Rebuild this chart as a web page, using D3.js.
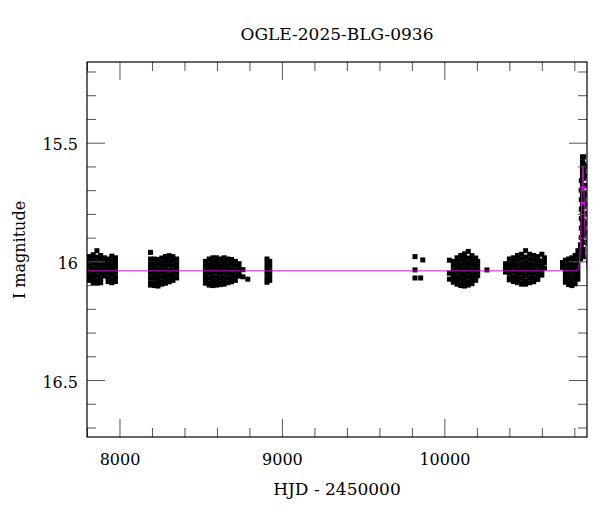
<!DOCTYPE html>
<html><head><meta charset="utf-8">
<script src="https://cdn.jsdelivr.net/npm/d3@7"></script>
<style>body{margin:0;background:#fff}svg{display:block}text{font-family:"DejaVu Serif",serif;fill:#000}</style>
</head><body><svg id="c" width="600" height="512"></svg>
<script>
const title = "OGLE-2025-BLG-0936";
const xLabel = "HJD - 2450000";
const yLabel = "I magnitude";
const xDomain = [7800, 10878];
const yDomain = [15.16, 16.74];
const xMajorTicks = [8000, 9000, 10000];
const xTickLabels = ["8000", "9000", "10000"];
const yMajorTicks = [15.5, 16, 16.5];
const yTickLabels = ["15.5", "16", "16.5"];

// photometry, grouped by observing time: [HJD-2450000, [I magnitudes]]
const season2017 = [
 [7815,[15.98,16.00,16.02,16.04,16.06,16.08]],
 [7838,[15.972,15.992,16.012,16.032,16.052,16.072,16.09]],
 [7861,[15.955,15.982,16.002,16.022,16.042,16.062,16.082,16.092]],
 [7884,[15.975,15.995,16.015,16.035,16.055,16.075,16.09]],
 [7907,[15.985,16.005,16.025,16.045,16.062]],
 [7930,[15.99,16.01,16.03,16.05,16.07,16.085]],
 [7953,[15.978,15.998,16.018,16.038,16.058,16.078,16.09]],
 [7975,[15.985,16.005,16.025,16.045,16.065,16.085]]
];
const season2018 = [
 [8191,[15.962,15.99,16.01,16.03,16.05,16.07,16.09,16.1]],
 [8214,[15.99,16.01,16.03,16.05,16.07,16.09,16.102]],
 [8237,[15.992,16.012,16.032,16.052,16.072,16.092,16.104]],
 [8260,[15.986,16.006,16.026,16.046,16.066,16.086,16.096]],
 [8283,[15.98,16.0,16.02,16.04,16.06,16.08,16.092]],
 [8306,[15.976,15.996,16.016,16.036,16.056,16.076,16.086]],
 [8329,[15.98,16.0,16.02,16.04,16.06,16.08]],
 [8352,[15.99,16.01,16.03,16.05,16.07]]
];
const season2019 = [
 [8529,[16.0,16.02,16.04,16.06,16.08,16.092]],
 [8552,[15.99,16.01,16.03,16.05,16.07,16.09,16.1]],
 [8575,[15.985,16.005,16.025,16.045,16.065,16.085,16.102]],
 [8598,[15.985,16.005,16.025,16.045,16.065,16.085,16.1]],
 [8621,[15.99,16.01,16.03,16.05,16.07,16.09,16.098]],
 [8644,[15.985,16.005,16.025,16.045,16.065,16.085,16.096]],
 [8667,[15.99,16.01,16.03,16.05,16.07,16.09]],
 [8690,[15.992,16.012,16.032,16.052,16.072,16.086]],
 [8713,[16.0,16.02,16.04,16.06,16.08]],
 [8736,[16.01,16.03,16.05,16.062]],
 [8760,[16.035,16.065]],
 [8790,[16.075]]
];
const season2020 = [
 [8908,[15.99,16.01,16.03,16.05,16.07,16.088]],
 [8925,[16.0,16.02,16.04,16.06,16.08]]
];
const season2022 = [
 [9819,[15.98,16.036,16.07]],
 [9867,[15.994]],
 [9854,[16.07]]
];
const season2023 = [
 [10031,[15.995,16.05,16.075]],
 [10055,[16.0,16.02,16.04,16.06,16.08,16.088]],
 [10078,[15.985,16.005,16.025,16.045,16.065,16.085,16.096]],
 [10101,[15.975,15.995,16.015,16.035,16.055,16.075,16.095,16.102]],
 [10124,[15.968,15.988,16.008,16.028,16.048,16.068,16.088,16.104]],
 [10147,[15.958,15.986,16.006,16.026,16.046,16.066,16.086,16.1]],
 [10170,[15.976,15.996,16.016,16.036,16.056,16.076,16.094]],
 [10193,[15.986,16.006,16.026,16.046,16.066,16.08]],
 [10205,[16.0,16.02,16.04,16.06]],
 [10262,[16.036]]
];
const season2024 = [
 [10376,[16.01,16.03,16.045]],
 [10400,[15.99,16.01,16.03,16.05,16.07,16.078]],
 [10425,[15.985,16.005,16.025,16.045,16.065,16.085]],
 [10450,[15.975,15.995,16.015,16.035,16.055,16.075,16.09]],
 [10475,[15.97,15.99,16.01,16.03,16.05,16.07,16.09,16.096]],
 [10500,[15.955,15.982,16.002,16.022,16.042,16.062,16.082,16.096]],
 [10525,[15.97,15.99,16.01,16.03,16.05,16.07,16.09]],
 [10550,[15.975,15.995,16.015,16.035,16.055,16.075,16.086]],
 [10575,[15.98,16.0,16.02,16.04,16.06,16.076]],
 [10600,[15.97,15.998,16.018,16.038,16.058]],
 [10616,[15.985,16.005,16.028]]
];
const season2025 = [
 [10727,[16.005,16.025]],
 [10745,[15.995,16.015,16.035,16.055,16.075,16.088]],
 [10765,[15.99,16.01,16.03,16.05,16.07,16.09,16.098]],
 [10785,[15.985,16.005,16.025,16.045,16.065,16.085,16.102]],
 [10805,[15.975,15.995,16.015,16.035,16.055,16.075,16.095]],
 [10822,[15.955,15.975,15.995,16.015,16.035,16.055,16.075]],
 [10838,[15.93,15.95,15.97,15.99]],
 [10843,[15.66,15.7,15.74,15.78,15.82,15.86,15.9,15.94,15.98]],
 [10850,[15.56,15.58,15.6,15.62,15.64,15.68,15.72,15.76,15.8,15.84,15.88,15.92,15.96]],
 [10857,[15.56,15.59,15.62,15.65,15.68,15.71,15.74,15.77,15.8,15.83,15.86,15.89,15.92,15.95,15.98]],
 [10864,[15.6,15.64,15.68,15.72,15.76,15.8,15.84,15.88,15.92]]
];
// model light curve
const modelT   = [7800, 10800, 10820, 10828, 10834, 10840, 10845, 10850, 10853, 10856, 10860, 10865, 10870, 10878];
const modelMag = [16.04, 16.04, 16.037, 16.025, 15.99, 15.88, 15.74, 15.625, 15.598, 15.625, 15.73, 15.87, 15.97, 16.03];
// highlighted points
const markT = [10853, 10853];
const markMag = [15.69, 15.755];

const svg = d3.select("#c");
const L = 87, R = 587, T = 62, B = 437;
const x = d3.scaleLinear().domain(xDomain).range([L, R]);
const y = d3.scaleLinear().domain(yDomain).range([T, B]);

svg.append("defs").append("clipPath").attr("id","pa")
  .append("rect").attr("x",L).attr("y",T).attr("width",R-L).attr("height",B-T);

const pts = [];
[season2017, season2018, season2019, season2020, season2022, season2023, season2024, season2025]
  .forEach(s => s.forEach(([t, ms]) => ms.forEach(m => pts.push([t, m]))));

const g = svg.append("g").attr("clip-path","url(#pa)");
const S = 5;
g.selectAll("rect.p").data(pts).join("rect").attr("class","p")
  .attr("x", d => x(d[0]) - S/2).attr("y", d => y(d[1]) - S/2)
  .attr("width", S).attr("height", S).attr("fill","#000");

const model = modelT.map((t,i)=>[t, modelMag[i]]);
g.append("path").datum(model)
  .attr("d", d3.line().x(d=>x(d[0])).y(d=>y(d[1])))
  .attr("fill","none").attr("stroke","#d010d0").attr("stroke-width",1);
g.selectAll("rect.m").data(markT.map((t,i)=>[t, markMag[i]])).join("rect").attr("class","m")
  .attr("x", d => x(d[0]) - 2.5).attr("y", d => y(d[1]) - 1.5)
  .attr("width", 5).attr("height", 3).attr("fill","#e000e0");

// axes (ticks inward on all sides)
const xMinor = d3.range(7800, 10879, 200).filter(v => !xMajorTicks.includes(v));
const yMinor = d3.range(15.2, 16.75, 0.1).map(v => +v.toFixed(1)).filter(v => !yMajorTicks.includes(v));
function axis(gen, scale, vals, size, tx, ty, labels) {
  const a = gen(scale).tickValues(vals).tickSize(-size).tickPadding(0);
  if (!labels) a.tickFormat("");
  const sel = svg.append("g").attr("transform",`translate(${tx},${ty})`).call(a);
  sel.select(".domain").remove();
  sel.selectAll(".tick line").attr("stroke","#555");
  return sel;
}
axis(d3.axisBottom, x, xMinor, 9, 0, B, false);
axis(d3.axisTop, x, xMinor, 9, 0, T, false);
axis(d3.axisTop, x, xMajorTicks, 18, 0, T, false);
axis(d3.axisLeft, y, yMinor, 9, L, 0, false);
axis(d3.axisRight, y, yMinor, 9, R, 0, false);
axis(d3.axisRight, y, yMajorTicks, 18, R, 0, false);
const bx = axis(d3.axisBottom, x, xMajorTicks, 18, 0, B, true);
bx.selectAll("text").text((d,i)=>xTickLabels[i]).attr("y", 17).attr("dy","0.71em")
  .style("font-size","16px").style("font-family","DejaVu Serif").attr("fill","#000");
const ly = axis(d3.axisLeft, y, yMajorTicks, 18, L, 0, true);
ly.selectAll("text").text((d,i)=>yTickLabels[i]).attr("x", -9).attr("dy","0.45em")
  .style("font-size","16px").style("font-family","DejaVu Serif").attr("fill","#000");

svg.append("rect").attr("x",L).attr("y",T).attr("width",R-L).attr("height",B-T)
  .attr("fill","none").attr("stroke","#000").attr("stroke-width",1.2);

svg.append("text").attr("x",(L+R)/2).attr("y",40).attr("text-anchor","middle")
  .style("font-size","17px").text(title);
svg.append("text").attr("x",(L+R)/2).attr("y",495).attr("text-anchor","middle")
  .style("font-size","17px").text(xLabel);
svg.append("text").attr("transform","translate(25,250) rotate(-90)").attr("text-anchor","middle")
  .style("font-size","16px").text(yLabel);
</script></body></html>
